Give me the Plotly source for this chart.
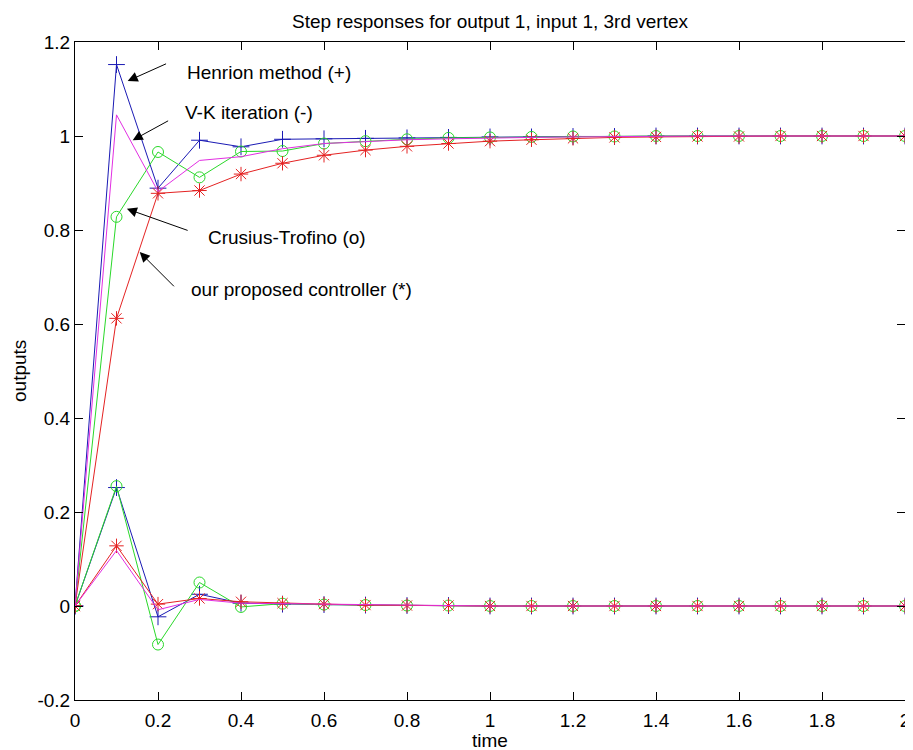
import plotly.graph_objects as go

# ---- data ----
time = [0.0, 0.1, 0.2, 0.3, 0.4, 0.5, 0.6, 0.7, 0.8, 0.9, 1.0,
        1.1, 1.2, 1.3, 1.4, 1.5, 1.6, 1.7, 1.8, 1.9, 2.0]

# output 1 (upper curves)
henrion_y1 = [0, 1.152, 0.889, 0.991, 0.977, 0.993, 0.994, 0.995, 0.996, 0.997, 0.998,
              0.998, 0.999, 0.999, 1.0, 1.0, 1.0, 1.0, 1.0, 1.0, 1.0]
vk_y1 = [0, 1.045, 0.882, 0.948, 0.956, 0.973, 0.984, 0.988, 0.992, 0.994, 0.996,
         0.997, 0.998, 0.999, 0.999, 1.0, 1.0, 1.0, 1.0, 1.0, 1.0]
ct_y1 = [0, 0.828, 0.966, 0.912, 0.967, 0.968, 0.984, 0.989, 0.993, 0.996, 0.997,
         0.998, 0.999, 0.999, 1.0, 1.0, 1.0, 1.0, 1.0, 1.0, 1.0]
ours_y1 = [0, 0.612, 0.878, 0.884, 0.919, 0.942, 0.959, 0.970, 0.978, 0.984, 0.989,
           0.992, 0.995, 0.997, 0.998, 0.999, 0.999, 1.0, 1.0, 1.0, 1.0]

# coupling output (lower curves)
henrion_y2 = [0, 0.252, -0.023, 0.025, 0.006, 0.004, 0.003, 0.002, 0.001, 0.001, 0.0,
              0.0, 0.0, 0.0, 0.0, 0.0, 0.0, 0.0, 0.0, 0.0, 0.0]
vk_y2 = [0, 0.118, -0.008, 0.014, 0.006, 0.005, 0.003, 0.002, 0.001, 0.001, 0.0,
         0.0, 0.0, 0.0, 0.0, 0.0, 0.0, 0.0, 0.0, 0.0, 0.0]
ct_y2 = [0, 0.255, -0.082, 0.050, -0.002, 0.005, 0.003, 0.002, 0.001, 0.001, 0.0,
         0.0, 0.0, 0.0, 0.0, 0.0, 0.0, 0.0, 0.0, 0.0, 0.0]
ours_y2 = [0, 0.128, 0.004, 0.016, 0.009, 0.006, 0.004, 0.002, 0.001, 0.001, 0.0,
           0.0, 0.0, 0.0, 0.0, 0.0, 0.0, 0.0, 0.0, 0.0, 0.0]

x_ticks = [0, 0.2, 0.4, 0.6, 0.8, 1.0, 1.2, 1.4, 1.6, 1.8, 2.0]
x_tick_labels = ["0", "0.2", "0.4", "0.6", "0.8", "1", "1.2", "1.4", "1.6", "1.8", "2"]
y_ticks = [-0.2, 0, 0.2, 0.4, 0.6, 0.8, 1.0, 1.2]
y_tick_labels = ["-0.2", "0", "0.2", "0.4", "0.6", "0.8", "1", "1.2"]

title_text = "Step responses for output 1, input 1, 3rd vertex"
labels = ["Henrion method (+)", "V-K iteration (-)", "Crusius-Trofino (o)",
          "our proposed controller (*)"]

# ---- styles ----
FONT = "Liberation Sans, Arial, sans-serif"
BLUE = "#1a1ab4"
GREEN = "#2ad82a"
RED = "#e42222"
MAGENTA = "#e22ee2"

# page body has an 8px margin: shrink the figure so the plot lands where the reference has it
W, H = 905, 742

series = [
    (henrion_y1, henrion_y2, BLUE, "cross-thin-open", 12, labels[0]),
    (ct_y1, ct_y2, GREEN, "circle-open", 11, labels[2]),
    (ours_y1, ours_y2, RED, "asterisk-open", 12, labels[3]),
    (vk_y1, vk_y2, MAGENTA, None, 0, labels[1]),
]

fig = go.Figure()
for y1, y2, col, sym, sz, name in series:
    for yy in (y1, y2):
        if sym:
            fig.add_trace(go.Scatter(
                x=time, y=yy, mode="lines+markers", name=name, showlegend=False,
                line=dict(color=col, width=1),
                marker=dict(symbol=sym, size=sz, color=col,
                            line=dict(color=col, width=1)),
            ))
        else:
            fig.add_trace(go.Scatter(
                x=time, y=yy, mode="lines", name=name, showlegend=False,
                line=dict(color=col, width=1),
            ))

axis_common = dict(
    showgrid=False, zeroline=False, showline=True, linecolor="black", linewidth=1,
    mirror="ticks", ticks="inside", ticklen=8, tickcolor="black", tickwidth=1,
    tickfont=dict(family=FONT, size=19, color="black"),
    ticklabeloverflow="allow",
)

fig.update_layout(
    width=W, height=H,
    margin=dict(l=67, r=3, t=34, b=50),
    paper_bgcolor="white", plot_bgcolor="white",
    showlegend=False,
    xaxis=dict(range=[0, 2], tickvals=x_ticks, ticktext=x_tick_labels,
               ticklabelstandoff=3, **axis_common),
    yaxis=dict(range=[-0.2, 1.2], tickvals=y_ticks, ticktext=y_tick_labels,
               **axis_common),
    title=dict(text=title_text, x=0.5, xref="paper", y=1 - 13 / H, yref="container",
               xanchor="center", yanchor="middle",
               font=dict(family=FONT, size=19, color="black")),
)

# axis titles
fig.add_annotation(text="time", xref="paper", yref="paper", x=0.5, y=0,
                   yshift=-40, yanchor="middle", showarrow=False,
                   font=dict(family=FONT, size=19, color="black"))
fig.add_annotation(text="outputs", xref="paper", yref="paper", x=0, y=0.5,
                   xshift=-56, xanchor="center", textangle=-90, showarrow=False,
                   font=dict(family=FONT, size=19, color="black"))

# labels with arrows (heads at x,y; tails at ax,ay in data units)
text_pos = [(0.266, 1.136), (0.261, 1.051), (0.316, 0.783), (0.275, 0.674)]
arrow_pos = [((0.127, 1.117), (0.223, 1.155)),
             ((0.139, 0.991), (0.228, 1.034)),
             ((0.125, 0.845), (0.275, 0.798)),
             ((0.156, 0.753), (0.242, 0.677))]
for lab, (tx, ty), ((hx, hy), (sx, sy)) in zip(labels, text_pos, arrow_pos):
    fig.add_annotation(text=lab, x=tx, y=ty, xref="x", yref="y", xanchor="left",
                       yanchor="middle", showarrow=False,
                       font=dict(family=FONT, size=19, color="black"))
    fig.add_annotation(text="", x=hx, y=hy, ax=sx, ay=sy, xref="x", yref="y",
                       axref="x", ayref="y", showarrow=True, arrowhead=2,
                       arrowsize=2, arrowwidth=1, arrowcolor="black")

fig.write_html("out.html")
